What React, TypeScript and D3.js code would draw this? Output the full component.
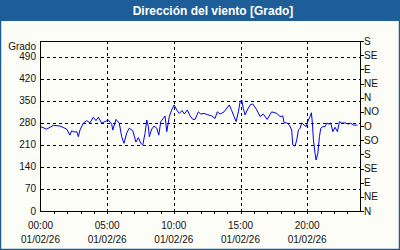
import React from "react";
import * as d3 from "d3";

const title = "Dirección del viento [Grado]";
const yAxisLabel = "Grado";
const leftTicks = [0, 70, 140, 210, 280, 350, 420, 490];
const rightTickValues = [0, 45, 90, 135, 180, 225, 270, 315, 360, 405, 450, 495, 540];
const rightTickLabels = ["N", "NE", "E", "SE", "S", "SO", "O", "NO", "N", "NE", "E", "SE", "S"];
const xLabelHours = [0, 5, 10, 15, 20];
const xLabelTimes = ["00:00", "05:00", "10:00", "15:00", "20:00"];
const xLabelDate = "01/02/26";

// [hour of day, wind direction in degrees]
const windDirection: [number, number][] = [
  [0, 268], [0.47, 260], [0.96, 272], [1.46, 270], [1.97, 260], [2.21, 241], [2.34, 255],
  [2.51, 251], [2.72, 252], [2.84, 236], [2.96, 257], [3.21, 279], [3.47, 287], [3.71, 280],
  [3.96, 298], [4.16, 287], [4.34, 298], [4.59, 279], [4.84, 284], [5.09, 289], [5.34, 276],
  [5.42, 257], [5.66, 291], [5.91, 279], [6.09, 236], [6.26, 215], [6.47, 248], [6.66, 263],
  [6.92, 255], [7.16, 219], [7.34, 233], [7.52, 215], [7.67, 210], [7.84, 247], [7.97, 289],
  [8.09, 268], [8.16, 236], [8.34, 260], [8.51, 270], [8.72, 263], [8.87, 241], [9.02, 284],
  [9.21, 294], [9.34, 302], [9.47, 252], [9.66, 300], [9.84, 321], [10.02, 337], [10.22, 321],
  [10.41, 310], [10.62, 319], [10.79, 308], [11.01, 321], [11.22, 302], [11.42, 291], [11.59, 291],
  [11.84, 315], [12.02, 308], [12.27, 310], [12.51, 306], [12.84, 302], [13.09, 294], [13.26, 315],
  [13.47, 308], [13.77, 315], [14.16, 337], [14.34, 319], [14.52, 300], [14.67, 284], [14.84, 315],
  [14.97, 347], [15.09, 353], [15.21, 326], [15.34, 305], [15.51, 321], [15.72, 337], [15.92, 340],
  [16.22, 321], [16.47, 300], [16.71, 308], [17.0, 291], [17.34, 315], [17.72, 310], [17.97, 300],
  [18.17, 302], [18.27, 280], [18.47, 280], [18.67, 273], [18.84, 257], [18.92, 210], [19.09, 206],
  [19.22, 226], [19.34, 257], [19.47, 263], [19.59, 280], [19.77, 273], [19.92, 268], [20.09, 289],
  [20.22, 300], [20.32, 312], [20.39, 279], [20.47, 226], [20.59, 183], [20.67, 162], [20.8, 183],
  [20.92, 236], [21.02, 263], [21.17, 268], [21.34, 268], [21.47, 279], [21.67, 276], [21.77, 280],
  [21.92, 252], [22.09, 266], [22.27, 252], [22.42, 284], [22.6, 279], [22.84, 280], [23.09, 276],
  [23.27, 279], [23.47, 273], [23.77, 273],
];

const W = 400;
const H = 250;
const plotL = 40.5;
const plotR = 360.5;
const plotT = 41;
const plotB = 211;
const FONT = "'Liberation Sans', Arial, sans-serif";
const BLUE = "#1d5e98";

export default function App() {
  const x = d3.scaleLinear().domain([0, 24]).range([plotL, plotR]);
  const y = d3.scaleLinear().domain([0, 540]).range([plotB, plotT]);
  const line = d3
    .line<[number, number]>()
    .x((d) => x(d[0]))
    .y((d) => y(d[1]));
  const hourTicks = d3.range(1, 24);

  return (
    <svg
      width={W}
      height={H}
      style={{ position: "fixed", left: 0, top: 0, display: "block" }}
      fontFamily={FONT}
    >
      <rect x={0} y={0} width={W} height={H} fill="#fdfdf8" />
      <rect x={0.5} y={0.5} width={W - 1} height={H - 1} fill="none" stroke={BLUE} strokeWidth={1.5} />
      <rect x={0} y={0} width={W} height={21} fill={BLUE} />
      <text x={213} y={15} textAnchor="middle" fill="#ffffff" fontSize={12} fontWeight="bold">
        {title}
      </text>

      {/* gridlines */}
      {leftTicks
        .filter((v) => v > 0)
        .map((v) => (
          <line
            key={"h" + v}
            x1={plotL}
            x2={plotR}
            y1={Math.round(y(v)) + 0.5}
            y2={Math.round(y(v)) + 0.5}
            stroke="#000"
            strokeWidth={1}
            strokeDasharray="3,3"
            shapeRendering="crispEdges"
          />
        ))}
      {xLabelHours
        .filter((h) => h > 0)
        .map((h) => (
          <line
            key={"v" + h}
            x1={Math.round(x(h)) + 0.5}
            x2={Math.round(x(h)) + 0.5}
            y1={plotT}
            y2={plotB}
            stroke="#000"
            strokeWidth={1}
            strokeDasharray="3,3"
            shapeRendering="crispEdges"
          />
        ))}

      {/* data line */}
      <path d={line(windDirection) || ""} fill="none" stroke="#0000ee" strokeWidth={1} />

      {/* frame */}
      <rect
        x={plotL}
        y={plotT + 0.5}
        width={plotR - plotL}
        height={plotB - plotT}
        fill="none"
        stroke="#000"
        strokeWidth={1}
        shapeRendering="crispEdges"
      />

      {/* bottom hour ticks */}
      {hourTicks.map((h) => (
        <line
          key={"t" + h}
          x1={Math.round(x(h)) + 0.5}
          x2={Math.round(x(h)) + 0.5}
          y1={plotB}
          y2={plotB + 3}
          stroke="#000"
          shapeRendering="crispEdges"
        />
      ))}

      {/* left labels */}
      <text x={36} y={50} textAnchor="end" fontSize={10} fill="#111">
        {yAxisLabel}
      </text>
      {leftTicks.map((v) => (
        <text key={"l" + v} x={36} y={y(v) + 3.5} textAnchor="end" fontSize={10} fill="#111">
          {v}
        </text>
      ))}

      {/* right axis */}
      {rightTickValues.map((v, i) => (
        <g key={"r" + i}>
          <line
            x1={plotR}
            x2={plotR + 3}
            y1={Math.round(y(v)) + 0.5}
            y2={Math.round(y(v)) + 0.5}
            stroke="#000"
            shapeRendering="crispEdges"
          />
          <text x={364} y={y(v) + 3.5} fontSize={10} fill="#111">
            {rightTickLabels[i]}
          </text>
        </g>
      ))}

      {/* bottom labels */}
      {xLabelHours.map((h, i) => (
        <g key={"b" + h}>
          <text x={x(h)} y={229} textAnchor="middle" fontSize={10} fill="#111">
            {xLabelTimes[i]}
          </text>
          <text x={x(h)} y={243} textAnchor="middle" fontSize={10} fill="#111">
            {xLabelDate}
          </text>
        </g>
      ))}
    </svg>
  );
}
